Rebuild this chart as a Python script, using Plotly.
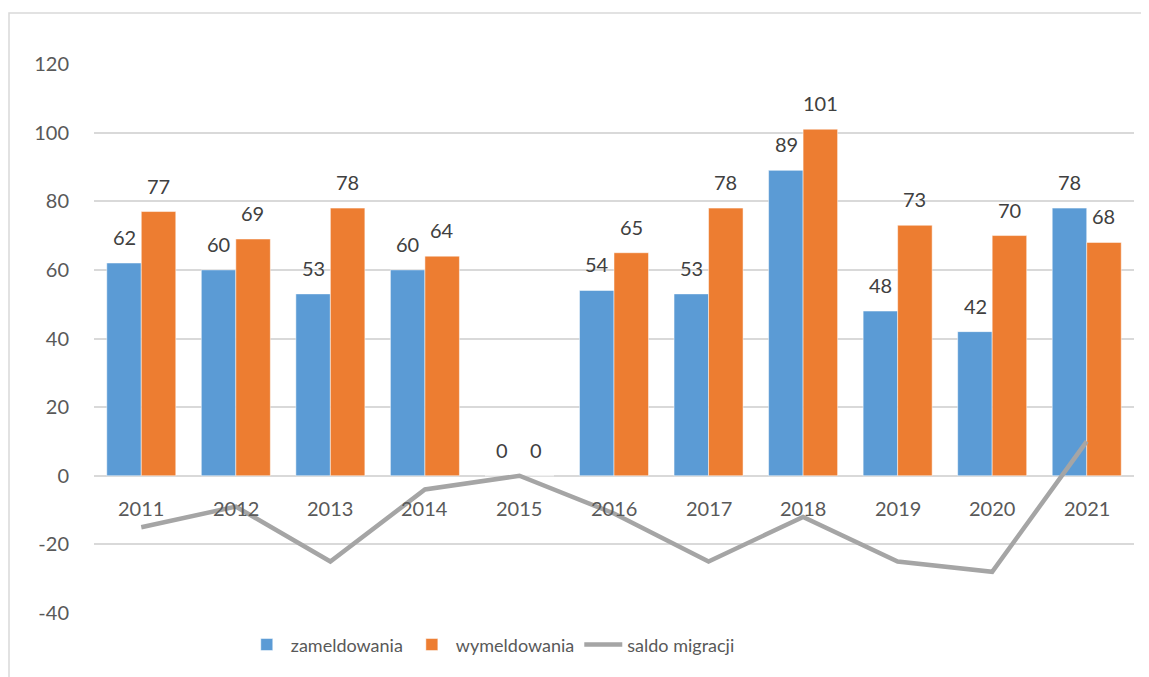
import plotly.graph_objects as go

years = ["2011", "2012", "2013", "2014", "2015", "2016", "2017", "2018", "2019", "2020", "2021"]
zameldowania = [62, 60, 53, 60, 0, 54, 53, 89, 48, 42, 78]
wymeldowania = [77, 69, 78, 64, 0, 65, 78, 101, 73, 70, 68]
saldo = [-15, -9, -25, -4, 0, -11, -25, -12, -25, -28, 10]
y_ticks = [-40, -20, 0, 20, 40, 60, 80, 100, 120]

FONT = "Lato, 'Open Sans', sans-serif"
xpos = list(range(len(years)))

fig = go.Figure()
fig.add_trace(go.Bar(x=xpos, y=zameldowania, name="zameldowania",
                     marker=dict(color="#5B9BD5", line=dict(color="white", width=0.5))))
fig.add_trace(go.Bar(x=xpos, y=wymeldowania, name="wymeldowania",
                     marker=dict(color="#ED7D31", line=dict(color="white", width=0.5))))
fig.add_trace(go.Scatter(x=xpos, y=saldo, name="saldo migracji", mode="lines",
                         line=dict(color="#A5A5A5", width=4.5)))

annotations = []
for i, y in enumerate(years):
    for vals, shift in ((zameldowania, -17), (wymeldowania, 17)):
        annotations.append(dict(x=i, y=vals[i], xref="x", yref="y", text=str(vals[i]),
                                showarrow=False, xshift=shift, yshift=12, yanchor="bottom",
                                font=dict(family=FONT, size=20, color="#404040")))
    annotations.append(dict(x=i, y=0, xref="x", yref="y", text=y, showarrow=False,
                            yshift=-32, yanchor="middle",
                            font=dict(family=FONT, size=20, color="#595959")))

# the page body has an 8px offset; margins are chosen so the plot area sits at
# x 94..1134, y 64..613 in the window
fig.update_layout(
    width=1149, height=677,
    margin=dict(l=86, r=23, t=56, b=72, autoexpand=False),
    paper_bgcolor="white", plot_bgcolor="white",
    barmode="group", bargap=0.27, bargroupgap=0,
    font=dict(family=FONT, size=18, color="#595959"),
    legend=dict(orientation="h", x=0.382, xanchor="center", y=-0.058, yanchor="middle",
                font=dict(family=FONT, size=18, color="#595959"), traceorder="normal",
                itemwidth=38),
    annotations=annotations,
    shapes=[dict(type="rect", xref="paper", yref="paper",
                 x0=(9 - 94) / 1040, x1=(1148 - 94) / 1040,
                 y0=-0.25, y1=(613 - 13) / 549,
                 line=dict(color="#D9D9D9", width=1.5), fillcolor="rgba(0,0,0,0)", layer="below")],
    showlegend=True,
)
fig.update_yaxes(range=[-40, 120], tickvals=y_ticks, ticktext=[str(v) for v in y_ticks],
                 showgrid=True, gridcolor="#D9D9D9",
                 gridwidth=1.5, zeroline=False, showline=False, ticks="outside", ticklen=20,
                 tickcolor="rgba(0,0,0,0)",
                 tickfont=dict(family=FONT, size=20, color="#595959"))
fig.update_xaxes(range=[-0.5, len(years) - 0.5], showgrid=False, showline=False, zeroline=False,
                 showticklabels=False, ticks="")

fig.write_html("out.html")
